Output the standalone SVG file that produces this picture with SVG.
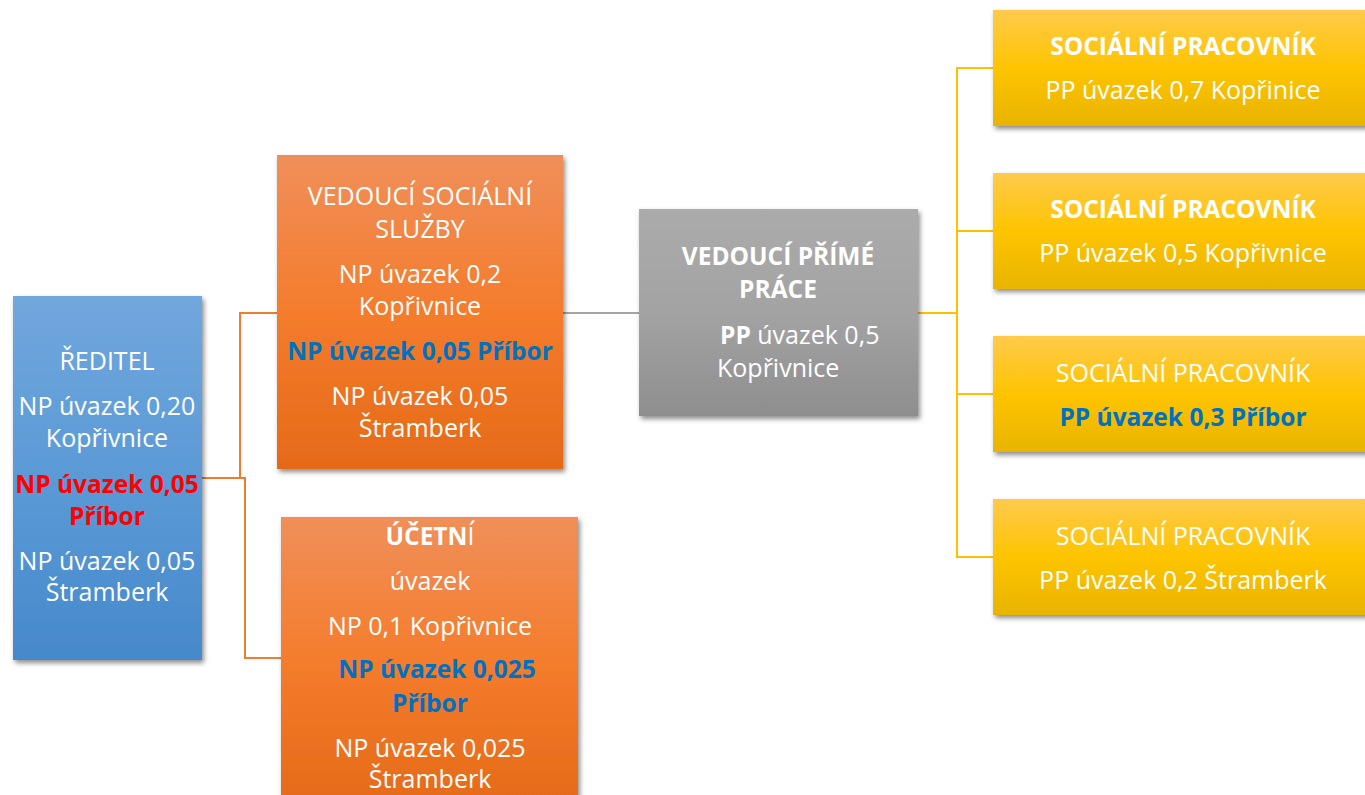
<svg xmlns="http://www.w3.org/2000/svg" width="1365" height="795" viewBox="0 0 1365 795">
<style>
text{font-family:"Open Sans","Noto Sans","DejaVu Sans",sans-serif;font-size:25px;fill:#ffffff;text-anchor:middle}
.b{font-weight:bold;font-size:24.5px}
.blue{fill:#0070c0;font-weight:bold;font-size:24.5px}
.red{fill:#ff0000;font-weight:bold;font-size:24.5px}
.conn{fill:none;stroke-width:2}
</style>
<defs>
<linearGradient id="gBlue" x1="0" y1="0" x2="0" y2="1"><stop offset="0" stop-color="#70a7dd"/><stop offset="0.5" stop-color="#5b9ad6"/><stop offset="1" stop-color="#4689cb"/></linearGradient>
<linearGradient id="gOrange" x1="0" y1="0" x2="0" y2="1"><stop offset="0" stop-color="#f08f5a"/><stop offset="0.5" stop-color="#f47c2c"/><stop offset="1" stop-color="#e56a18"/></linearGradient>
<linearGradient id="gGray" x1="0" y1="0" x2="0" y2="1"><stop offset="0" stop-color="#ababab"/><stop offset="0.5" stop-color="#a3a3a3"/><stop offset="1" stop-color="#8e8e8e"/></linearGradient>
<linearGradient id="gYellow" x1="0" y1="0" x2="0" y2="1"><stop offset="0" stop-color="#ffca4c"/><stop offset="0.5" stop-color="#fec400"/><stop offset="1" stop-color="#e8b400"/></linearGradient>
<filter id="sh" x="-10%" y="-10%" width="125%" height="125%"><feDropShadow dx="2" dy="3" stdDeviation="2.5" flood-color="#000" flood-opacity="0.45"/></filter>
</defs>
<g id="connectors">
<path class="conn" stroke="#ed7d31" d="M202,478 H240 V313 H277"/>
<path class="conn" stroke="#ed7d31" d="M202,478 H245 V658 H281"/>
<path class="conn" stroke="#a5a5a5" d="M563,313 H639"/>
<path class="conn" stroke="#ffc000" stroke-width="3" d="M918,313 H957"/>
<path class="conn" stroke="#ffc000" d="M993,68 H957 V557 H993 M957,231 H993 M957,394 H993"/>
</g>
<g id="reditel">
<rect x="13" y="296" width="189" height="364" fill="url(#gBlue)" filter="url(#sh)"/>
<text x="107" y="370">ŘEDITEL</text>
<text x="107" y="415">NP úvazek 0,20</text>
<text x="107" y="447">Kopřivnice</text>
<text x="107" y="493" class="red">NP úvazek 0,05</text>
<text x="107" y="525" class="red">Příbor</text>
<text x="107" y="570">NP úvazek 0,05</text>
<text x="107" y="601">Štramberk</text>
</g>
<g id="vedouci-socialni-sluzby">
<rect x="277" y="155" width="286" height="314" fill="url(#gOrange)" filter="url(#sh)"/>
<text x="420" y="205">VEDOUCÍ SOCIÁLNÍ</text>
<text x="420" y="238">SLUŽBY</text>
<text x="420" y="283">NP úvazek 0,2</text>
<text x="420" y="315">Kopřivnice</text>
<text x="420" y="360" class="blue">NP úvazek 0,05 Příbor</text>
<text x="420" y="405">NP úvazek 0,05</text>
<text x="420" y="437">Štramberk</text>
</g>
<g id="ucetni">
<rect x="281" y="517" width="297" height="290" fill="url(#gOrange)" filter="url(#sh)"/>
<text x="430" y="545"><tspan class="b">ÚČETN</tspan>Í</text>
<text x="430" y="590">úvazek</text>
<text x="430" y="635">NP 0,1 Kopřivnice</text>
<text x="437" y="678" class="blue">NP úvazek 0,025</text>
<text x="430" y="712" class="blue">Příbor</text>
<text x="430" y="757">NP úvazek 0,025</text>
<text x="430" y="788">Štramberk</text>
</g>
<g id="vedouci-prime-prace">
<rect x="639" y="209" width="279" height="207" fill="url(#gGray)" filter="url(#sh)"/>
<text x="778" y="265" class="b">VEDOUCÍ PŘÍMÉ</text>
<text x="778" y="298" class="b">PRÁCE</text>
<text x="720" y="344" style="text-anchor:start"><tspan class="b">PP</tspan> úvazek 0,5</text>
<text x="717" y="377" style="text-anchor:start">Kopřivnice</text>
</g>
<g id="socialni-pracovnik-1">
<rect x="993" y="10" width="380" height="116" fill="url(#gYellow)" filter="url(#sh)"/>
<text x="1183" y="55" class="b">SOCIÁLNÍ PRACOVNÍK</text>
<text x="1183" y="99">PP úvazek 0,7 Kopřinice</text>
</g>
<g id="socialni-pracovnik-2">
<rect x="993" y="173" width="380" height="116" fill="url(#gYellow)" filter="url(#sh)"/>
<text x="1183" y="218" class="b">SOCIÁLNÍ PRACOVNÍK</text>
<text x="1183" y="262">PP úvazek 0,5 Kopřivnice</text>
</g>
<g id="socialni-pracovnik-3">
<rect x="993" y="336" width="380" height="116" fill="url(#gYellow)" filter="url(#sh)"/>
<text x="1183" y="382">SOCIÁLNÍ PRACOVNÍK</text>
<text x="1183" y="426" class="blue">PP úvazek 0,3 Příbor</text>
</g>
<g id="socialni-pracovnik-4">
<rect x="993" y="499" width="380" height="116" fill="url(#gYellow)" filter="url(#sh)"/>
<text x="1183" y="545">SOCIÁLNÍ PRACOVNÍK</text>
<text x="1183" y="589">PP úvazek 0,2 Štramberk</text>
</g>
</svg>
